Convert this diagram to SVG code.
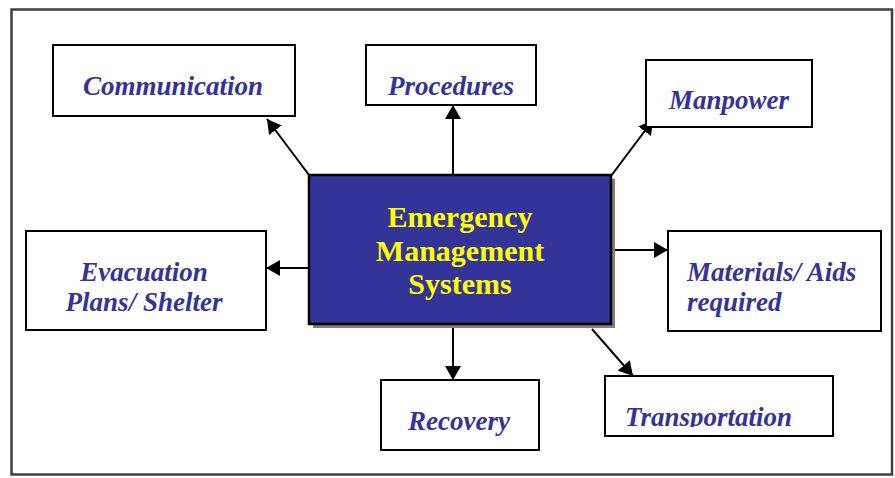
<svg xmlns="http://www.w3.org/2000/svg" width="895" height="478" viewBox="0 0 895 478">
  <style>
    .box { fill: #ffffff; stroke: #000000; stroke-width: 2; }
    .lbl { font-family: "Liberation Serif", "Times New Roman", serif; font-weight: bold; font-style: italic; font-size: 27px; fill: #333399; }
    .ctr { font-family: "Liberation Serif", "Times New Roman", serif; font-weight: bold; font-size: 30px; fill: #ffff00; text-anchor: middle; }
    .conn line { stroke: #000000; stroke-width: 2; marker-end: url(#arrow); }
  </style>
  <defs>
    <marker id="arrow" markerUnits="userSpaceOnUse" markerWidth="15" markerHeight="16" refX="14" refY="8" orient="auto" viewBox="0 0 15 16">
      <path d="M0,0 L14,8 L0,16 z" fill="#000000"/>
    </marker>
    <clipPath id="clipTrans">
      <rect x="605" y="377" width="227" height="50"/>
    </clipPath>
  </defs>
  <rect width="895" height="478" fill="#ffffff"/>
  <rect x="11.5" y="9.5" width="880.5" height="465" fill="none" stroke="#404040" stroke-width="2.5"/>

  <g class="conn">
    <line x1="309" y1="175" x2="267" y2="119"/>
    <line x1="453" y1="175" x2="453" y2="105"/>
    <line x1="611" y1="176" x2="653" y2="120"/>
    <line x1="309" y1="268" x2="266" y2="268"/>
    <line x1="611" y1="250" x2="668" y2="250"/>
    <line x1="453" y1="324" x2="453" y2="380"/>
    <line x1="592" y1="329" x2="633" y2="376"/>
  </g>

  <g id="center">
    <rect x="313" y="179" width="302" height="149" fill="#808080"/>
    <rect x="309" y="175" width="302" height="149" fill="#333399" stroke="#000000" stroke-width="2.5"/>
    <text class="ctr" x="460" y="227">Emergency</text>
    <text class="ctr" x="460" y="261">Management</text>
    <text class="ctr" x="460" y="294">Systems</text>
  </g>

  <g id="communication">
    <rect class="box" x="53" y="45" width="242" height="71"/>
    <text class="lbl" x="173" y="95" text-anchor="middle">Communication</text>
  </g>
  <g id="procedures">
    <rect class="box" x="366" y="45" width="170" height="60"/>
    <text class="lbl" x="451" y="95" text-anchor="middle">Procedures</text>
  </g>
  <g id="manpower">
    <rect class="box" x="646" y="60" width="166" height="67"/>
    <text class="lbl" x="729" y="109" text-anchor="middle">Manpower</text>
  </g>
  <g id="evacuation">
    <rect class="box" x="26" y="231" width="240" height="99"/>
    <text class="lbl" x="144" y="281" text-anchor="middle">Evacuation</text>
    <text class="lbl" x="144" y="311" text-anchor="middle">Plans/ Shelter</text>
  </g>
  <g id="materials">
    <rect class="box" x="668" y="231" width="213" height="100"/>
    <text class="lbl" x="687" y="281">Materials/ Aids</text>
    <text class="lbl" x="687" y="311">required</text>
  </g>
  <g id="recovery">
    <rect class="box" x="381" y="380" width="158" height="70"/>
    <text class="lbl" x="459" y="430" text-anchor="middle">Recovery</text>
  </g>
  <g id="transportation">
    <rect class="box" x="605" y="376" width="228" height="60"/>
    <text class="lbl" x="625" y="426" clip-path="url(#clipTrans)">Transportation</text>
  </g>
</svg>
